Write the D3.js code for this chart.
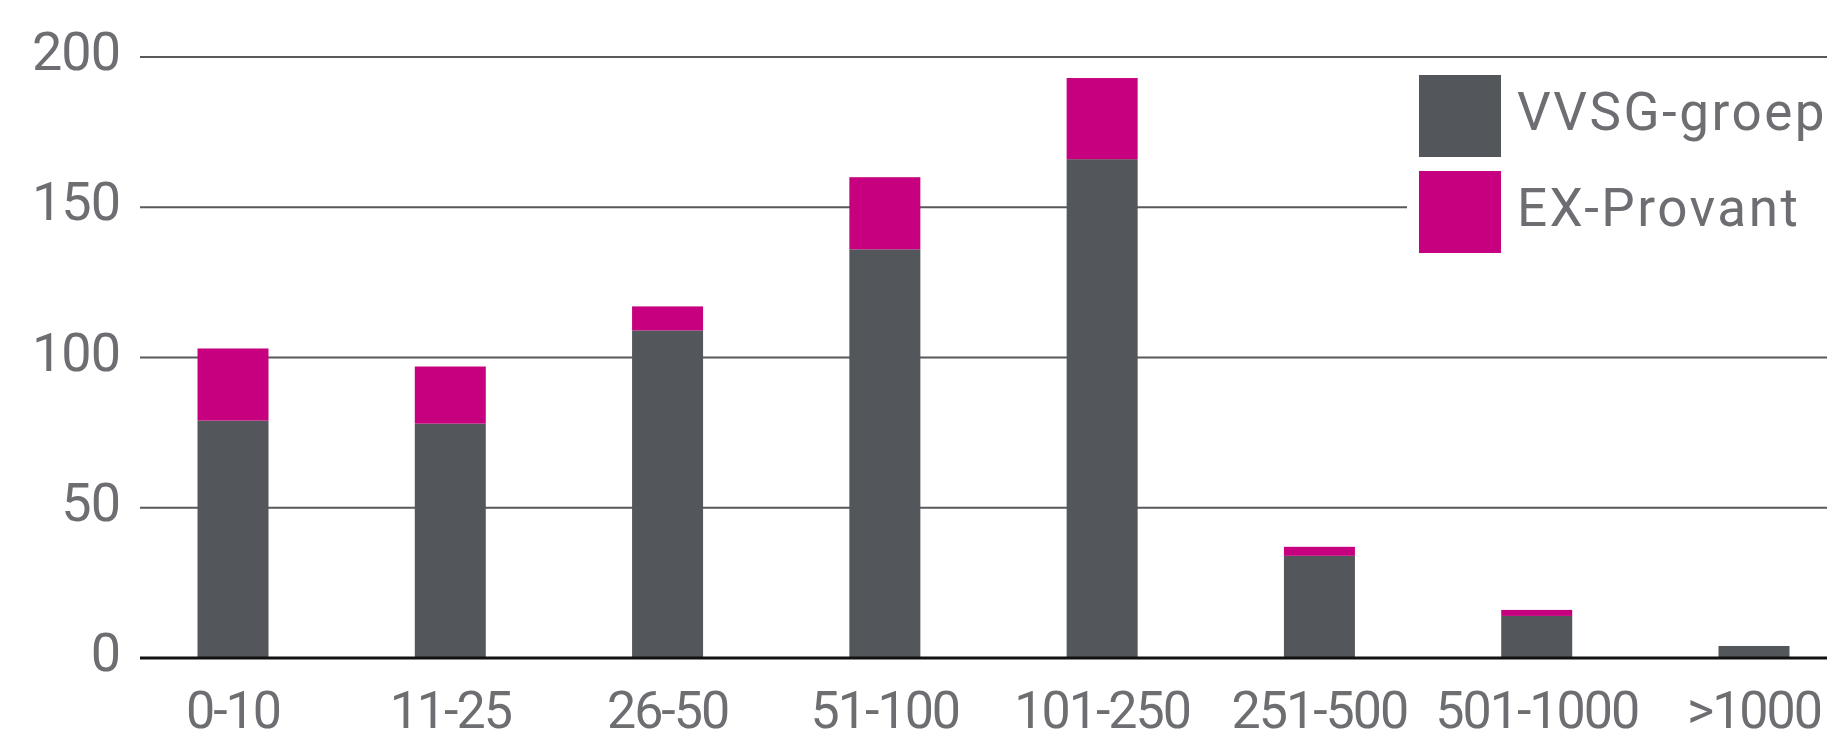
<!DOCTYPE html>
<html><head><meta charset="utf-8">
<script src="https://cdn.jsdelivr.net/npm/d3@7"></script>
<style>html,body{margin:0;padding:0;background:#fff;} svg{display:block;}</style>
</head><body>
<svg id="chart" width="1836" height="743"></svg>
<script>
const categories = ["0-10","11-25","26-50","51-100","101-250","251-500","501-1000",">1000"];
const vvsg = [79, 78, 109, 136, 166, 34, 14, 4];
const provant = [24, 19, 8, 24, 27, 3, 2, 0];
const yTicks = [0, 50, 100, 150, 200];
const seriesNames = ["VVSG-groep", "EX-Provant"];
const colors = ["#53565a", "#c6007e"];

const svg = d3.select("#chart");
const textColor = "#6d6e71";
const font = "Roboto, 'Noto Sans', sans-serif";

const y = d3.scaleLinear().domain([0, 200]).range([658, 57]);
const x = d3.scalePoint().domain(categories).range([233, 1754]);
const barW = 71;
const gridX0 = 140, gridX1 = 1827;

// gridlines
svg.append("g").selectAll("line").data(yTicks.filter(d => d > 0)).join("line")
  .attr("x1", gridX0).attr("x2", gridX1)
  .attr("y1", d => y(d)).attr("y2", d => y(d))
  .attr("stroke", "#58595b").attr("stroke-width", 2);

// y tick labels
svg.append("g").selectAll("text").data(yTicks).join("text")
  .attr("x", 120).attr("y", d => y(d) + 13)
  .attr("text-anchor", "end")
  .attr("font-family", font).attr("font-size", 54).attr("letter-spacing", -1)
  .attr("fill", textColor)
  .text(d => d);

// stacked data
const rows = categories.map((c, i) => ({cat: c, VVSG: vvsg[i], EX: provant[i]}));
const stack = d3.stack().keys(["VVSG", "EX"])(rows);

svg.append("g").selectAll("g").data(stack).join("g")
  .attr("fill", (d, i) => colors[i])
  .selectAll("rect").data(d => d).join("rect")
  .attr("x", d => x(d.data.cat) - barW / 2)
  .attr("width", barW)
  .attr("y", d => y(d[1]))
  .attr("height", d => Math.max(0, y(d[0]) - y(d[1])));

// baseline
svg.append("line")
  .attr("x1", gridX0).attr("x2", gridX1)
  .attr("y1", y(0)).attr("y2", y(0))
  .attr("stroke", "#111").attr("stroke-width", 3);

// x labels
svg.append("g").selectAll("text").data(categories).join("text")
  .attr("x", d => x(d)).attr("y", 728)
  .attr("text-anchor", "middle")
  .attr("font-family", font).attr("font-size", 52).attr("letter-spacing", -2)
  .attr("fill", textColor)
  .text(d => d);

// legend
const lg = svg.append("g");
lg.append("rect").attr("x", 1407).attr("y", 66).attr("width", 429).attr("height", 200).attr("fill", "#fff");
seriesNames.forEach((name, i) => {
  const top = 75 + i * 96;
  lg.append("rect").attr("x", 1419).attr("y", top).attr("width", 82).attr("height", 82).attr("fill", colors[i]);
  lg.append("text").attr("x", 1517).attr("y", top + 55)
    .attr("font-family", font).attr("font-size", 53).attr("letter-spacing", 2.5)
    .attr("fill", textColor).text(name);
});
</script>
</body></html>
